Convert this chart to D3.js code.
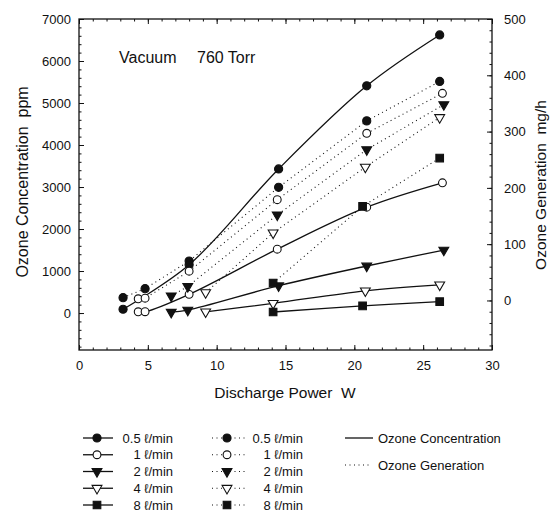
<!DOCTYPE html>
<html>
<head>
<meta charset="utf-8">
<script src="https://cdn.jsdelivr.net/npm/d3@7"></script>
<style>
  body { margin: 0; background: #fff; }
  text { font-family: "Liberation Sans", Arial, Helvetica, sans-serif; fill: #111; }
</style>
</head>
<body>
<div class="chart"></div>
<script>
// flow rates (l/min)
const flows = ["0.5", "1", "2", "4", "8"];

// ozone concentration (ppm), solid lines, left axis
const concPower = [
  [3.2, 8.0, 14.5, 20.9, 26.2],
  [4.3, 4.8, 8.0, 14.4, 20.9, 26.4],
  [6.7, 7.9, 14.5, 20.9, 26.5],
  [9.2, 14.1, 20.8, 26.2],
  [14.1, 20.6, 26.2]
];
const concPpm = [
  [90, 1150, 3430, 5410, 6620],
  [30, 31, 445, 1520, 2520, 3100],
  [20, 70, 650, 1120, 1500],
  [30, 230, 530, 670],
  [25, 170, 270]
];

// ozone generation (mg/h), dotted lines, right axis
const genPower = [
  [3.2, 4.8, 8.0, 14.5, 20.9, 26.2],
  [4.3, 4.8, 8.0, 14.4, 20.9, 26.4],
  [6.7, 7.9, 14.4, 20.9, 26.5],
  [9.2, 14.1, 20.8, 26.2],
  [14.1, 20.6, 26.2]
];
const genMgh = [
  [5, 21, 70, 201, 319, 389],
  [3, 4, 52, 179, 297, 368],
  [8, 25, 152, 268, 348],
  [14, 120, 237, 325],
  [31, 167, 253]
];

const xTicks = [0, 5, 10, 15, 20, 25, 30];
const leftTicks = [0, 1000, 2000, 3000, 4000, 5000, 6000, 7000];
const rightTicks = [0, 100, 200, 300, 400, 500];

const width = 555;
const height = 514;
const plotL = 79, plotR = 492, plotT = 19, plotB = 350;

const svg = d3.select('.chart')
  .append('svg')
  .attr('width', width)
  .attr('height', height);

const x = d3.scaleLinear().domain([0, 30]).range([plotL, plotR]);
const yL = d3.scaleLinear().domain([-880, 7000]).range([plotB, plotT]);
const yR = d3.scaleLinear().domain([-88, 500]).range([plotB, plotT]);

// axes with inward ticks
function styleAxis(g) {
  g.select('.domain').remove();
  g.selectAll('line').attr('stroke', '#111').attr('stroke-width', 1);
  g.selectAll('text').attr('font-size', 13).attr('fill', '#111');
}

svg.append('g').attr('transform', `translate(0,${plotB})`)
  .call(d3.axisBottom(x).tickValues(d3.range(0, 31, 1)).tickSize(-2.5).tickFormat(''))
  .call(styleAxis);
svg.append('g').attr('transform', `translate(0,${plotB})`)
  .call(d3.axisBottom(x).tickValues(xTicks).tickSize(-5).tickPadding(11).tickFormat(d3.format('d')))
  .call(styleAxis);
svg.append('g').attr('transform', `translate(0,${plotT})`)
  .call(d3.axisTop(x).tickValues(d3.range(0, 31, 1)).tickSize(-2.5).tickFormat(''))
  .call(styleAxis);
svg.append('g').attr('transform', `translate(0,${plotT})`)
  .call(d3.axisTop(x).tickValues(xTicks).tickSize(-5).tickFormat(''))
  .call(styleAxis);

svg.append('g').attr('transform', `translate(${plotL},0)`)
  .call(d3.axisLeft(yL).tickValues(d3.range(-800, 7001, 200)).tickSize(-2.5).tickFormat(''))
  .call(styleAxis);
svg.append('g').attr('transform', `translate(${plotL},0)`)
  .call(d3.axisLeft(yL).tickValues(leftTicks).tickSize(-5).tickPadding(8).tickFormat(d3.format('d')))
  .call(styleAxis);
svg.append('g').attr('transform', `translate(${plotR},0)`)
  .call(d3.axisRight(yR).tickValues(d3.range(-80, 501, 20)).tickSize(-2.5).tickFormat(''))
  .call(styleAxis);
svg.append('g').attr('transform', `translate(${plotR},0)`)
  .call(d3.axisRight(yR).tickValues(rightTicks).tickSize(-5).tickPadding(12).tickFormat(d3.format('d')))
  .call(styleAxis);

svg.append('rect')
  .attr('x', plotL).attr('y', plotT)
  .attr('width', plotR - plotL).attr('height', plotB - plotT)
  .attr('fill', 'none').attr('stroke', '#111').attr('stroke-width', 1.3);

// titles
svg.append('text').text('Vacuum')
  .attr('x', 119).attr('y', 63).attr('font-size', 16);
svg.append('text').text('760 Torr')
  .attr('x', 197).attr('y', 63).attr('font-size', 16);
svg.append('text').text('Discharge Power  W')
  .attr('x', 285).attr('y', 398).attr('text-anchor', 'middle').attr('font-size', 15.5)
  .attr('xml:space', 'preserve');
svg.append('text').text('Ozone Concentration  ppm')
  .attr('transform', 'translate(28,182) rotate(-90)')
  .attr('text-anchor', 'middle').attr('font-size', 16).attr('xml:space', 'preserve');
svg.append('text').text('Ozone Generation  mg/h')
  .attr('transform', 'translate(546,185) rotate(-90)')
  .attr('text-anchor', 'middle').attr('font-size', 15.5).attr('xml:space', 'preserve');

// marker per flow rate
function marker(g, i) {
  const filled = (i === 0 || i === 2 || i === 4);
  const type = [d3.symbolCircle, d3.symbolCircle, d3.symbolTriangle, d3.symbolTriangle, d3.symbolSquare][i];
  const size = [52, 48, 42, 42, 58][i];
  g.append('path')
    .attr('d', d3.symbol().type(type).size(size)())
    .attr('transform', (i === 2 || i === 3) ? 'rotate(180)' : null)
    .attr('fill', filled ? '#111' : '#fff')
    .attr('stroke', '#111')
    .attr('stroke-width', 1.1);
}

const solid = d3.line().curve(d3.curveCatmullRom.alpha(0.5));
const dotted = d3.line();

flows.forEach((f, i) => {
  const pts = concPower[i].map((p, j) => [x(p), yL(concPpm[i][j])]);
  svg.append('path').attr('d', solid(pts))
    .attr('fill', 'none').attr('stroke', '#111').attr('stroke-width', 1.3);
});
flows.forEach((f, i) => {
  const pts = genPower[i].map((p, j) => [x(p), yR(genMgh[i][j])]);
  svg.append('path').attr('d', dotted(pts))
    .attr('fill', 'none').attr('stroke', '#111').attr('stroke-width', 1.1)
    .attr('stroke-dasharray', '1,3.5');
});
flows.forEach((f, i) => {
  genPower[i].forEach((p, j) => {
    svg.append('g').attr('transform', `translate(${x(p)},${yR(genMgh[i][j])})`)
      .call(marker, i);
  });
  concPower[i].forEach((p, j) => {
    svg.append('g').attr('transform', `translate(${x(p)},${yL(concPpm[i][j])})`)
      .call(marker, i);
  });
});

// legend
const rowY = d3.scaleLinear().domain([0, 4]).range([438, 505]);
flows.forEach((f, i) => {
  const y = rowY(i);
  svg.append('line').attr('x1', 83).attr('x2', 113).attr('y1', y).attr('y2', y)
    .attr('stroke', '#111').attr('stroke-width', 1.3);
  svg.append('g').attr('transform', `translate(97,${y})`).call(marker, i);
  svg.append('text').text(f + ' \u2113/min').attr('x', 173).attr('y', y + 4.5)
    .attr('text-anchor', 'end').attr('font-size', 13);

  svg.append('line').attr('x1', 212).attr('x2', 247).attr('y1', y).attr('y2', y)
    .attr('stroke', '#111').attr('stroke-width', 1.1).attr('stroke-dasharray', '1,3.5');
  svg.append('g').attr('transform', `translate(227,${y})`).call(marker, i);
  svg.append('text').text(f + ' \u2113/min').attr('x', 303).attr('y', y + 4.5)
    .attr('text-anchor', 'end').attr('font-size', 13);
});

svg.append('line').attr('x1', 345).attr('x2', 373).attr('y1', 438).attr('y2', 438)
  .attr('stroke', '#111').attr('stroke-width', 1.3);
svg.append('text').text('Ozone Concentration').attr('x', 378).attr('y', 442.5).attr('font-size', 13);
svg.append('line').attr('x1', 345).attr('x2', 369).attr('y1', 465).attr('y2', 465)
  .attr('stroke', '#111').attr('stroke-width', 1.1).attr('stroke-dasharray', '1,3.5');
svg.append('text').text('Ozone Generation').attr('x', 378).attr('y', 469.5).attr('font-size', 13);
</script>
</body>
</html>
